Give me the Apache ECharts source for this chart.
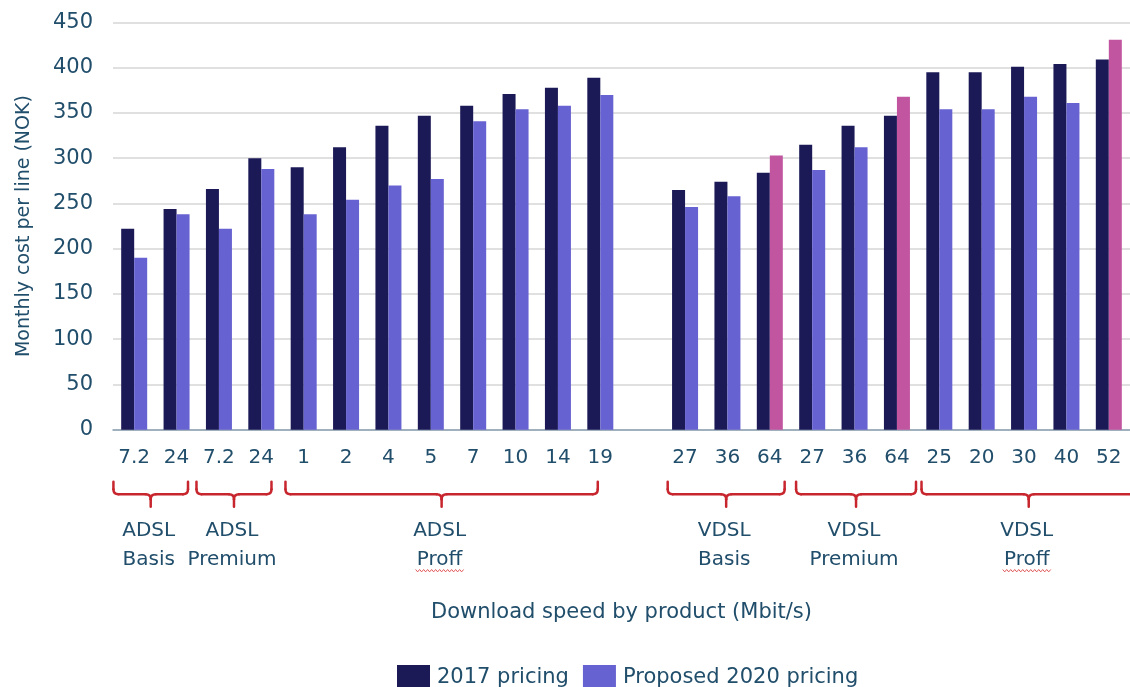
<!DOCTYPE html>
<html>
<head>
<meta charset="utf-8">
<title>Monthly cost per line by product</title>
<script src="https://cdn.jsdelivr.net/npm/echarts@6/dist/echarts.min.js"></script>
<style>
  html, body { margin: 0; padding: 0; background: #ffffff; }
  #chart { width: 1130px; height: 687px; }
</style>
</head>
<body>
<div id="chart"></div>
<script>
// Download speeds (Mbit/s) per product; the empty slot separates ADSL from VDSL
const speeds = ['7.2', '24', '7.2', '24', '1', '2', '4', '5', '7', '10', '14', '19', '',
                '27', '36', '64', '27', '36', '64', '25', '20', '30', '40', '52'];

// Monthly cost per line (NOK)
const pricing2017 = [222, 244, 266, 300, 290, 312, 336, 347, 358, 371, 378, 389, null,
                     265, 274, 284, 315, 336, 347, 395, 395, 401, 404, 409];
const pricing2020 = [190, 238, 222, 288, 238, 254, 270, 277, 341, 354, 358, 370, null,
                     246, 258, 303, 287, 312, 368, 354, 354, 368, 361, 431];

// Product groups: label and first/last speed index they span
const groupLabels = ['ADSL\nBasis', 'ADSL\nPremium', 'ADSL\nProff', 'VDSL\nBasis', 'VDSL\nPremium', 'VDSL\nProff'];
const groupFirst  = [0, 2, 4, 13, 16, 19];
const groupLast   = [1, 3, 11, 15, 18, 23];

const seriesNames = ['2017 pricing', 'Proposed 2020 pricing'];
const yTicks = { min: 0, max: 450, step: 50 };

// Styling
const TEXT = '#214e6b';
const FONT = 'DejaVu Sans';
const C2017 = '#1b1a57';
const C2020 = '#6762d1';
const CRISE = '#c1559f';   // proposed price higher than the 2017 price
const BRACE = '#c8262e';
// bracket end padding, in category steps (left, right)
const bracketPad = [[-0.49, 0.27], [-0.53, 0.24], [-0.43, -0.06], [-0.41, 0.35], [-0.38, 0.45], [-0.42, 0.64]];

const chart = echarts.init(document.getElementById('chart'), null, { renderer: 'canvas' });

const data2020 = pricing2020.map((v, i) => {
  if (v == null) return null;
  const rise = pricing2017[i] != null && v > pricing2017[i];
  return rise ? { value: v, itemStyle: { color: CRISE } } : v;
});

chart.setOption({
  animation: false,
  textStyle: { fontFamily: FONT },
  grid: { left: 113, top: 22.5, width: 1018, height: 407.2, containLabel: false },
  legend: {
    data: seriesNames,
    left: 392, top: 660,
    icon: 'rect',
    itemWidth: 33, itemHeight: 25, itemGap: 14,
    textStyle: { fontFamily: FONT, fontSize: 21, color: TEXT, padding: [0, 0, 0, 2] }
  },
  xAxis: {
    type: 'category',
    data: speeds,
    name: 'Download speed by product (Mbit/s)',
    nameLocation: 'middle',
    nameGap: 172,
    nameTextStyle: { fontFamily: FONT, fontSize: 21, color: TEXT },
    axisLine: { lineStyle: { color: '#8aa0b0', width: 1.5 } },
    axisTick: { show: false },
    axisLabel: { interval: 0, margin: 18, fontFamily: FONT, fontSize: 20, color: TEXT },
    splitLine: { show: false }
  },
  yAxis: {
    type: 'value',
    min: yTicks.min, max: yTicks.max, interval: yTicks.step,
    name: 'Monthly cost per line (NOK)',
    nameLocation: 'middle',
    nameGap: 79,
    nameTextStyle: { fontFamily: FONT, fontSize: 19, color: TEXT },
    axisLine: { show: false },
    axisTick: { show: false },
    axisLabel: { margin: 20, fontFamily: FONT, fontSize: 21, color: TEXT },
    splitLine: { lineStyle: { color: '#d6d6d6', width: 1.5 } }
  },
  series: [
    { name: seriesNames[0], type: 'bar', data: pricing2017, barWidth: 13, barGap: '0%',
      itemStyle: { color: C2017 } },
    { name: seriesNames[1], type: 'bar', data: data2020, barWidth: 13, barGap: '0%',
      itemStyle: { color: C2020 } }
  ]
});

// Group brackets and labels under the speed labels, placed from the category axis
function drawGroups() {
  const c0 = chart.convertToPixel({ xAxisIndex: 0 }, 0);
  const c1 = chart.convertToPixel({ xAxisIndex: 0 }, 1);
  const step = c1 - c0;
  const axisY = chart.convertToPixel({ yAxisIndex: 0 }, 0);
  const top = axisY + 52, hy = axisY + 64.5, bottom = axisY + 77;
  const r = 5;
  const stroke = { fill: null, stroke: BRACE, lineWidth: 2.5, lineCap: 'round' };
  const seg = (x1, y1, x2, y2) => ({ type: 'line', silent: true, shape: { x1, y1, x2, y2 }, style: stroke });
  const curve = (x1, y1, cx, cy, x2, y2) => ({
    type: 'bezierCurve', silent: true,
    shape: { x1, y1, x2, y2, cpx1: cx, cpy1: cy }, style: stroke
  });
  const els = [];
  groupLabels.forEach((label, g) => {
    const xa = chart.convertToPixel({ xAxisIndex: 0 }, groupFirst[g]) + bracketPad[g][0] * step;
    const xb = chart.convertToPixel({ xAxisIndex: 0 }, groupLast[g]) + bracketPad[g][1] * step;
    const xm = (xa + xb) / 2;
    els.push(seg(xa, top, xa, hy - r));
    els.push(curve(xa, hy - r, xa, hy, xa + r, hy));
    els.push(seg(xa + r, hy, xm - r, hy));
    els.push(curve(xm - r, hy, xm, hy, xm, hy + r));
    els.push(curve(xm + r, hy, xm, hy, xm, hy + r));
    els.push(seg(xm, hy + r, xm, bottom));
    els.push(seg(xm + r, hy, xb - r, hy));
    els.push(curve(xb - r, hy, xb, hy, xb, hy - r));
    els.push(seg(xb, hy - r, xb, top));
    els.push({
      type: 'text', silent: true, x: xm - 2, y: axisY + 116,
      style: { text: label, fontFamily: FONT, fontSize: 20, lineHeight: 29, fill: TEXT,
               align: 'center', verticalAlign: 'middle' }
    });
    // wavy underline beneath "Proff"
    if (label.endsWith('Proff')) {
      const pts = [];
      const wy = axisY + 141;
      for (let k = 0; k <= 24; k++) {
        pts.push([xm - 26 + k * 2, wy + (k % 2 === 0 ? -1.2 : 1.2)]);
      }
      els.push({
        type: 'polyline', silent: true, shape: { points: pts },
        style: { fill: null, stroke: '#e0585a', lineWidth: 1 }
      });
    }
  });
  chart.setOption({ graphic: { elements: els } });
}
drawGroups();
</script>
</body>
</html>
